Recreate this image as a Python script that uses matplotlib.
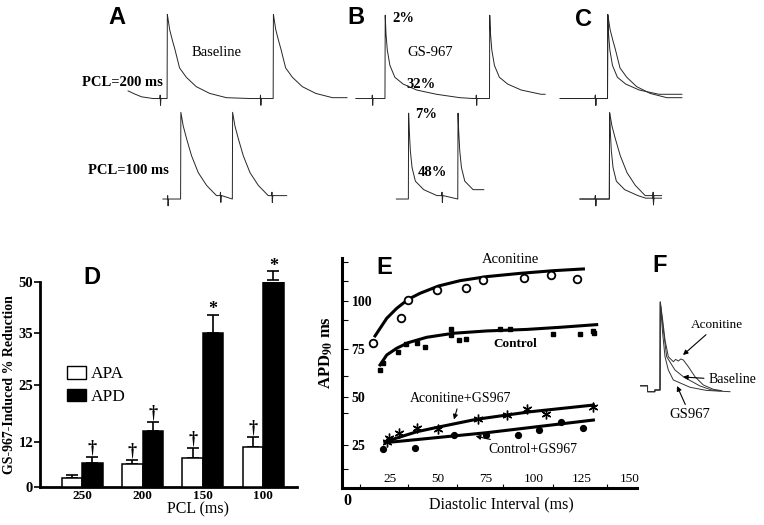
import matplotlib
matplotlib.use('Agg')
import matplotlib.pyplot as plt
import matplotlib.transforms as mtransforms
import numpy as np
from matplotlib.patches import Patch

plt.rcParams['font.family'] = ['Liberation Serif', 'DejaVu Serif']
plt.rcParams['mathtext.fontset'] = 'stix'

W, H = 764, 525

# ---- action potential shapes (ms after upstroke, mV) ----
base200_t = [0, 0.5, 2, 5, 10, 15, 24, 37, 56, 82, 114, 160]
base200_v = [-80, 19, 13, 1, -11, -22, -44, -55, -66, -74, -79, -80]
gs200_t = [0, 0.5, 2, 4.5, 9.5, 19, 35, 61, 99, 144, 170]
gs200_v = [-80, 18, -4, -23, -41, -55, -63, -70, -75, -79, -80]
base100_t = [0, 0.5, 5, 11.5, 21, 34, 50, 69, 85]
base100_v = [-80, 22, 6, -9, -29, -49, -64, -76, -80]
gs100_t = [0, 0.5, 1.8, 3.8, 7.1, 13.5, 29.5, 55, 70]
gs100_v = [-80, 21, 0, -23, -43, -59, -69, -76, -79]
stim_t = [0, 0.7, 1.4, 2.2, 3.0]
stim_dv = [0, 4, -8, 0, 0]

# pacing events (ms) for each row, A / B / C
a_top_lead_t = [54, 66, 80, 102]
a_top_lead_v = [-71, -74.5, -78, -80]
a_top_stims, a_top_aps, a_top_end = [115, 308], [129, 333], 475
b_top_start, b_top_stims, b_top_aps, b_top_end = 492, [523, 723], [548, 749], 856
c_top_start, c_top_stims, c_top_aps, c_top_end = 885, [952], [976], 1119
a_bot_start, a_bot_stims, a_bot_aps, a_bot_end = 121, [129.5, 231, 330], [155, 254.5], 359
b_bot_start, b_bot_stims, b_bot_aps, b_bot_end = 570, [657], [593, 688], 738
c_bot_start, c_bot_stims, c_bot_aps, c_bot_end = 923, [952, 1063], [979.5], 1080

# ---- panel F traces (ms from upstroke, mV) ----
f_pre_t = [-38, -24, -24, -10, -10, 0]
f_pre_v = [-75, -75, -82, -82, -80, -80]
f_gs_t = [0, 0.5, 5.1, 9.6, 16, 25.6, 57.7, 89.7, 134.6]
f_gs_v = [-80, 23.5, -13.3, -40.8, -56.5, -68.2, -76.8, -80.5, -82]
f_base_t = [0, 0.5, 6.4, 12.8, 28.8, 44.9, 76.9, 99.4, 115]
f_base_v = [-80, 23.5, -9.4, -40.8, -56.5, -64.4, -75.3, -80, -81]
f_aco_t = [0, 0.5, 5.1, 9.6, 16, 25.6, 30, 35.2, 40, 44.9, 54.5, 67.3, 83.3, 102.5, 118.6]
f_aco_v = [-80, 23.5, 2.4, -21.2, -40.8, -46.7, -44, -45.9, -43.5, -44.7, -52.6, -64.4, -74.1, -79.2, -80.8]

# ---- panel D ----
pcl_labels = ['250', '200', '150', '100']
apa = [2.4, 6.1, 7.7, 10.7]
apa_err = [0.8, 1.1, 2.7, 2.4]
apd = [6.4, 14.5, 35.0, 50.5]
apd_err = [1.6, 2.1, 5.3, 2.7]
apa_marks = ['', '\u2020', '\u2020', '\u2020']
apd_marks = ['\u2020', '\u2020', '*', '*']
d_ticks = [0, 12, 25, 35, 50]
d_tick_pos = [0, 45, 102, 154, 205]   # uneven spacing of the printed axis

# ---- panel E ----
aco_x = [16.3, 30.6, 34.5, 49.6, 64.6, 73.3, 94.8, 108.7, 122.6]
aco_y = [78.0, 91.0, 100.5, 105.7, 106.9, 111.0, 111.8, 113.5, 111.5]
aco_fit_x = [17.2, 23.3, 28.5, 34.5, 40.6, 50.2, 61.5, 75.3, 92.7, 110.1, 125.7]
aco_fit_y = [81.8, 91.0, 96.2, 100.9, 104.0, 107.8, 110.6, 112.7, 114.4, 115.8, 116.7]
ctl_x = [19.8, 21.5, 29.3, 33.3, 38.9, 43.2, 56.8, 56.8, 61.1, 64.6, 82.3, 87.5, 110.1, 124.0, 130.6, 131.3]
ctl_y = [64.1, 67.5, 73.6, 77.6, 78.0, 76.2, 85.2, 82.3, 79.7, 80.0, 85.2, 85.2, 82.8, 82.8, 84.4, 83.5]
ctl_fit_x = [19.8, 23.3, 28.5, 34.5, 44.1, 58.0, 75.3, 96.2, 113.5, 132.6]
ctl_fit_y = [66.7, 71.9, 75.4, 78.3, 81.1, 83.2, 84.4, 85.2, 86.3, 87.7]
acogs_x = [23.3, 24.7, 29.7, 39.2, 50.2, 71.0, 85.8, 96.5, 106.3, 130.6]
acogs_y = [26.7, 28.5, 31.1, 33.7, 33.2, 38.5, 40.6, 43.6, 41.0, 44.6]
acogs_fit_x = [22.4, 38.9, 51.0, 70.1, 97.9, 130.9]
acogs_fit_y = [26.7, 31.9, 34.5, 38.4, 42.3, 45.8]
ctlgs_x = [21.2, 38.2, 58.3, 75.0, 91.8, 102.8, 113.9, 125.4]
ctlgs_y = [22.8, 23.3, 30.2, 30.0, 30.2, 32.8, 36.8, 33.7]
ctlgs_fit_x = [22.4, 75.3, 130.9]
ctlgs_fit_y = [26.2, 31.4, 38.0]
e_xticks = [25, 50, 75, 100, 125, 150]
e_yticks = [25, 50, 75, 100]
e_xminor = [9.5, 34.5, 60, 84, 110, 138]
e_yminor = [12.5, 41.5, 61, 90, 110.5, 120.5]

TRACE = '#262626'
SANS = ['Liberation Sans', 'DejaVu Sans']


def px_axes(x0, y0, x1, y1):
    ax = fig.add_axes([x0 / W, 1 - y1 / H, (x1 - x0) / W, (y1 - y0) / H])
    ax.patch.set_visible(False)
    return ax


def px_text(x, y, s, **kw):
    fig.text(x / W, 1 - y / H, s, ha='center', va='center', **kw)


def build_trace(t_start, t_end, stims, aps, ap_t, ap_v, lead=None):
    if lead is None:
        ts, vs = [t_start], [-80.0]
    else:
        ts, vs = list(lead[0]), list(lead[1])
    events = sorted([(t, 'stim') for t in stims] + [(t, 'ap') for t in aps])
    for i, (te, kind) in enumerate(events):
        nxt = events[i + 1][0] if i + 1 < len(events) else t_end
        base = vs[-1]
        if kind == 'stim':
            ts += [te + dt for dt in stim_t]
            vs += [base + dv for dv in stim_dv]
        else:
            for dt, v in zip(ap_t, ap_v):
                if te + dt < nxt:
                    ts.append(te + dt)
                    vs.append(v)
    ts.append(t_end)
    vs.append(vs[-1])
    return ts, vs


fig = plt.figure(figsize=(W / 100, H / 100), dpi=100)

# ---------------- A, B, C traces ----------------
ax_top = px_axes(100, 0, 700, 110)
ax_top.set_xlim(0, 600 / 0.52)
ax_top.set_ylim(-93.5, 35.9)
ax_top.axis('off')
ax_bot = px_axes(100, 100, 700, 215)
ax_bot.set_xlim(0, 600 / 0.52)
ax_bot.set_ylim(-98.8, 36.5)
ax_bot.axis('off')

top_traces = [
    build_trace(a_top_lead_t[0], a_top_end, a_top_stims, a_top_aps, base200_t, base200_v,
                lead=(a_top_lead_t, a_top_lead_v)),
    build_trace(b_top_start, b_top_end, b_top_stims, b_top_aps, gs200_t, gs200_v),
    build_trace(c_top_start, c_top_end, c_top_stims, c_top_aps, base200_t, base200_v),
    build_trace(c_top_start, c_top_end, c_top_stims, c_top_aps, gs200_t, gs200_v),
]
for ts, vs in top_traces:
    ax_top.plot(ts, vs, color=TRACE, lw=0.7)

bot_traces = [
    build_trace(a_bot_start, a_bot_end, a_bot_stims, a_bot_aps, base100_t, base100_v),
    build_trace(b_bot_start, b_bot_end, b_bot_stims, b_bot_aps, gs100_t, gs100_v),
    build_trace(c_bot_start, c_bot_end, c_bot_stims, c_bot_aps, base100_t, base100_v),
    build_trace(c_bot_start, c_bot_end, c_bot_stims, c_bot_aps, gs100_t, gs100_v),
]
for ts, vs in bot_traces:
    ax_bot.plot(ts, vs, color=TRACE, lw=0.7)

px_text(117, 17, 'A', fontsize=17, fontweight='bold', family=SANS)
px_text(356, 17, 'B', fontsize=17, fontweight='bold', family=SANS)
px_text(583, 19, 'C', fontsize=17, fontweight='bold', family=SANS)
px_text(122, 82, 'PCL=200 ms', fontsize=10.5, fontweight='bold')
px_text(128, 170, 'PCL=100 ms', fontsize=10.5, fontweight='bold')
px_text(217, 53, 'Baseline', fontsize=10.5)
px_text(430, 53, 'GS-967', fontsize=10.5)
px_text(403, 18, '2%', fontsize=10.5, fontweight='bold')
px_text(421, 85, '32%', fontsize=10.5, fontweight='bold')
px_text(426, 115, '7%', fontsize=10.5, fontweight='bold')
px_text(432, 173, '48%', fontsize=10.5, fontweight='bold')

# ---------------- D bar chart ----------------
axd = px_axes(40, 282, 297, 487)
ext_vals = [-20] + d_ticks + [80]
ext_pos = [-75] + d_tick_pos + [307]
axd.set_yscale('function', functions=(lambda y: np.interp(y, ext_vals, ext_pos),
                                      lambda p: np.interp(p, ext_pos, ext_vals)))
axd.set_ylim(0, 50)
axd.set_xlim(-0.70, 3.56)
x = np.arange(len(pcl_labels))
bw = 0.34
axd.bar(x - bw / 2, apa, bw, color='white', edgecolor='k', lw=1.1, zorder=3)
axd.bar(x + bw / 2, apd, bw, color='k', edgecolor='k', lw=1.1, zorder=3)
axd.errorbar(x - bw / 2, apa, yerr=[[0] * 4, apa_err], fmt='none', ecolor='k',
             elinewidth=1.2, capsize=4, capthick=1.2, clip_on=False, zorder=2)
axd.errorbar(x + bw / 2, apd, yerr=[[0] * 4, apd_err], fmt='none', ecolor='k',
             elinewidth=1.2, capsize=4, capthick=1.2, clip_on=False, zorder=2)
for xs, vals, errs, marks in [(x - bw / 2, apa, apa_err, apa_marks),
                              (x + bw / 2, apd, apd_err, apd_marks)]:
    for xi, v, e, m in zip(xs, vals, errs, marks):
        if m:
            axd.annotate(m, xy=(xi, v + e), xytext=(0, -2.5 if m == '*' else 0.5),
                         textcoords='offset points', ha='center', va='bottom',
                         fontsize=13, fontweight='bold', annotation_clip=False)
for s in ['top', 'right']:
    axd.spines[s].set_visible(False)
axd.spines['left'].set_linewidth(2)
axd.spines['bottom'].set_linewidth(2)
axd.set_yticks(d_ticks)
axd.set_yticklabels([str(v) for v in d_ticks], fontsize=10.5, fontweight='bold')
axd.set_xticks(x)
axd.set_xticklabels(pcl_labels, fontsize=9.5, fontweight='bold')
axd.tick_params(axis='y', length=4, width=1.2, pad=1)
axd.tick_params(axis='x', length=0, pad=2.5)
axd.yaxis.set_minor_locator(plt.NullLocator())
axd.set_ylabel('GS-967-Induced % Reduction', fontsize=10, fontweight='bold')
axd.yaxis.set_label_coords(-0.092, 0.5)
axd.set_xlabel('PCL (ms)', fontsize=11.5)
axd.xaxis.set_label_coords(0.615, -0.072)
axd.legend([Patch(fc='white', ec='k', lw=1), Patch(fc='k', ec='k')], ['APA', 'APD'],
           loc='upper left', bbox_to_anchor=(0.105, 0.59), frameon=False, fontsize=12.5,
           handlelength=1.1, handleheight=0.75, handletextpad=0.25, labelspacing=0.35,
           borderpad=0, borderaxespad=0)
px_text(92, 277, 'D', fontsize=17, fontweight='bold', family=SANS)

# ---------------- E restitution ----------------
axe = px_axes(342, 258, 637, 488)
axe.set_xlim(0, 153.6)
axe.set_ylim(2.6, 122.4)
axe.plot(aco_fit_x, aco_fit_y, color='k', lw=2.2)
axe.plot(ctl_fit_x, ctl_fit_y, color='k', lw=2.2)
axe.plot(acogs_fit_x, acogs_fit_y, color='k', lw=2.2)
axe.plot(ctlgs_fit_x, ctlgs_fit_y, color='k', lw=2.2)
axe.plot(aco_x, aco_y, 'o', mfc='white', mec='k', ms=5.5, mew=1.3, ls='none')
axe.plot(ctl_x, ctl_y, 's', color='k', ms=3.0, ls='none')
axe.plot(acogs_x, acogs_y, marker=(6, 2, 0), color='k', ms=7, mew=1.0, ls='none')
axe.plot(ctlgs_x, ctlgs_y, 'o', color='k', ms=4.2, ls='none')
for s in ['top', 'right']:
    axe.spines[s].set_visible(False)
axe.spines['left'].set_linewidth(2.2)
axe.spines['bottom'].set_linewidth(2.2)
axe.set_yticks(e_yticks)
axe.set_yticks(e_yminor, minor=True)
axe.set_yticklabels([str(v) for v in e_yticks], fontsize=10, fontweight='bold')
axe.tick_params(axis='y', which='both', direction='in', length=4, width=0.8, pad=-7)
for lbl in axe.get_yticklabels():
    lbl.set_horizontalalignment('left')
axe.set_xticks(e_xticks)
axe.set_xticks(e_xminor, minor=True)
axe.set_xticklabels([str(v) for v in e_xticks], fontsize=9.5)
axe.tick_params(axis='x', which='major', direction='in', length=0, pad=-2.5)
axe.tick_params(axis='x', which='minor', direction='in', length=3, width=0.8)
for lbl in axe.get_xticklabels():
    lbl.set_verticalalignment('bottom')
blend = mtransforms.blended_transform_factory(axe.transData, axe.transAxes)
axe.text(2.6, -0.02, '0', transform=blend, ha='center', va='top', fontsize=11.5, fontweight='bold')
axe.set_xlabel('Diastolic Interval (ms)', fontsize=11.5)
axe.xaxis.set_label_coords(0.541, -0.035)
axe.set_ylabel(r'APD$_{\mathbf{90}}$ ms', fontsize=12, fontweight='bold')
axe.yaxis.set_label_coords(-0.024, 0.587)
axe.text(87.5, 121.4, 'Aconitine', ha='center', va='center', fontsize=10.5)
axe.text(90, 77.6, 'Control', ha='center', va='center', fontsize=9.5, fontweight='bold')
arrow = dict(arrowstyle='-|>', lw=0.8, color='k', mutation_scale=7, shrinkA=1, shrinkB=0)
axe.annotate('Aconitine+GS967', xy=(58.3, 38.3), xytext=(61.5, 49.3), ha='center',
             va='center', fontsize=10, arrowprops=arrow)
axe.annotate('Control+GS967', xy=(69.6, 29.6), xytext=(99.6, 22.9), ha='center',
             va='center', fontsize=10, arrowprops=arrow)
px_text(384, 267, 'E', fontsize=17, fontweight='bold', family=SANS)

# ---------------- F overlay ----------------
axf = px_axes(640, 295, 764, 420)
axf.set_xlim(-38.5, 200)
axf.set_ylim(-115.3, 31.8)
axf.axis('off')
for tt, vv in [(f_gs_t, f_gs_v), (f_base_t, f_base_v), (f_aco_t, f_aco_v)]:
    axf.plot(f_pre_t + tt, f_pre_v + vv, color='#333333', lw=0.7)
axf.annotate('Aconitine', xy=(44.2, -38.8), xytext=(109.6, -3.5), ha='center', va='center',
             fontsize=9.5, arrowprops=arrow, annotation_clip=False)
axf.annotate('Baseline', xy=(44.2, -64.7), xytext=(138.5, -68.2), ha='center', va='center',
             fontsize=10, arrowprops=arrow, annotation_clip=False)
axf.annotate('GS967', xy=(32.7, -75.3), xytext=(57.7, -109.4), ha='center', va='center',
             fontsize=10.5, arrowprops=arrow, annotation_clip=False)
px_text(660, 266, 'F', fontsize=17, fontweight='bold', family=SANS)

fig.savefig('out.png', dpi=100)
